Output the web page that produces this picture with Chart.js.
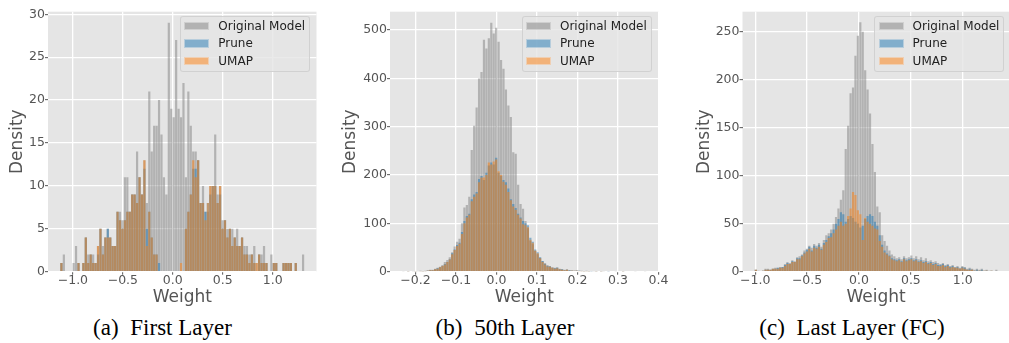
<!DOCTYPE html>
<html><head><meta charset="utf-8">
<script src="https://cdn.jsdelivr.net/npm/chart.js@4.4.0/dist/chart.umd.min.js"></script>
<style>
html,body{margin:0;padding:0;background:#fff;width:1009px;height:343px;overflow:hidden;position:relative;}
canvas{position:absolute;top:0;}
.legend{position:absolute;width:130px;height:56px;box-sizing:border-box;background:rgba(229,229,229,0.8);border:1px solid rgba(204,204,204,0.8);border-radius:3px;font-family:'DejaVu Sans',sans-serif;font-size:12px;color:#222;}
.row{position:absolute;left:0;height:14px;line-height:14px;width:128px;}
.sw{position:absolute;left:3.3px;top:2.6px;width:25px;height:8.75px;box-sizing:border-box;border:0.5px solid rgba(238,238,238,0.5);}
.lt{position:absolute;left:37.3px;top:0;white-space:nowrap;}
.cap{position:absolute;top:315.7px;height:23px;line-height:23px;font-family:'Liberation Serif','Times New Roman',serif;font-size:23px;color:#000;white-space:nowrap;transform:translateX(-50%);}
.gap{display:inline-block;width:11.7px;}
</style></head><body>
<canvas id="c1" width="330" height="312" style="left:0px;width:330px;height:312px"></canvas>
<canvas id="c2" width="332" height="312" style="left:340px;width:332px;height:312px"></canvas>
<canvas id="c3" width="330" height="312" style="left:690px;width:330px;height:312px"></canvas>
<div id="legends"></div>
<div class="cap" style="left:162.5px">(a)<span class="gap"></span>First Layer</div>
<div class="cap" style="left:505px">(b)<span class="gap"></span>50th Layer</div>
<div class="cap" style="left:852px">(c)<span class="gap"></span>Last Layer (FC)</div>
<script>
// ---------- data ----------
const seriesNames = ['Original Model', 'Prune', 'UMAP'];

// Panel (a) First Layer: 100 bins
const firstBinStart = -1.127, firstBinWidth = 0.02443;
const firstOriginal = [1,2,0,0,0,1,3,1,0,1, 4,2,2,2,1,3,5,3,4,5, 4,3,3,7,7,6,11,11,7,9, 9,14,11,9,13,8,21,14,17,17,
  20,16,11,9,29,19,18,27,19,18, 22,11,21,17,14,14,13,8,10,7, 7,10,10,16,9,10,6,6,5,5, 5,4,5,3,4,3,3,2,2,3,
  1,2,2,3,1,0,2,1,1,0, 0,1,1,1,1,0,1,0,0,2];
const firstPrune = [1,0,0,0,0,0,0,1,0,1, 4,1,2,1,1,2,5,2,4,5, 4,3,3,7,6,5,6,7,7,9, 9,8,11,9,12,5,7,4,2,2,
  1,0,0,0,0,0,0,0,0,0, 0,5,7,9,12,12,13,8,8,7, 8,9,10,10,8,9,5,6,4,5, 3,4,3,3,4,2,2,1,2,1,
  0,2,1,1,1,0,0,1,1,0, 0,1,1,1,1,0,1,0,0,0];
const firstUmap = [1,0,0,0,0,0,0,1,0,1, 4,1,2,1,1,3,5,2,4,4, 4,3,3,7,6,5,6,7,7,9, 9,8,11,9,13,3,7,4,2,2,
  0,0,0,0,0,0,0,0,0,1, 0,5,7,9,13,11,13,8,8,6, 8,10,10,10,8,10,5,6,4,5, 3,4,3,3,4,2,2,1,2,1,
  1,2,1,1,1,0,0,1,1,0, 0,1,1,1,1,0,1,0,0,0];

// Panel (b) 50th Layer
const midBinStart = -0.233, midBinWidth = 0.00603;
const midOriginal = [1,0,1,0,1,1,1,2,1,2, 3,4,4,6,8,10,14,20,24,30, 40,52,62,68,100,133,138,155,252,302,
  340,400,413,480,462,483,515,493,505,476, 438,420,377,344,320,247,244,180,140,130, 105,90,64,57,43,36,29,22,18,14,
  12,9,8,9,6,5,4,5,3,3, 2,3,2,2,1,2,1,1,1,1, 0,1,1,0,1,0,0,1,0,0, 1,0,0,0,0,1,0,0,0,1];
const midPrune = [0,0,1,0,0,1,0,1,1,1, 2,3,3,5,7,9,12,16,20,26, 38,46,55,60,82,105,115,120,150,160,
  165,192,198,190,205,220,226,222,236,205, 198,190,185,172,150,140,132,120,112,105, 100,96,70,62,46,40,30,22,16,12,
  11,8,7,8,5,5,3,4,3,2, 2,2,2,1,1,1,1,1,0,1, 0,1,0,0,1,0,0,0,0,0, 1,0,0,0,0,0,0,0,0,0];
const midUmap = [0,0,1,0,0,1,0,1,1,1, 2,3,3,5,6,9,12,15,20,25, 36,45,53,58,78,100,112,118,146,155,
  162,185,195,195,200,226,222,228,232,208, 200,186,180,165,148,135,128,118,110,98, 96,92,66,60,44,38,28,20,15,11,
  10,8,6,7,5,4,3,4,2,2, 2,2,1,1,1,1,1,0,0,1, 0,1,0,0,0,0,0,0,0,0, 1,0,0,0,0,0,0,0,0,0];

// Panel (c) Last Layer (FC)
const lastBinStart = -1.005, lastBinWidth = 0.0234;
const lastOriginal = [2,1,0,1,3,3,2,3,4,4, 5,5,8,10,9,12,11,15,16,18, 22,24,27,25,29,27,30,26,33,38,
  40,44,50,57,66,75,85,128,152,186, 192,225,246,260,250,210,190,165,133,104, 68,62,38,32,27,22,18,16,14,15,
  13,16,14,15,17,14,16,13,15,12, 14,11,12,10,11,9,8,9,7,8, 6,7,5,6,4,6,5,3,4,3, 2,3,2,3,1,2,1,1,0,2];
const lastPrune = [2,0,0,1,2,2,2,3,3,4, 4,5,7,9,8,11,10,14,14,17, 20,23,26,22,27,25,28,24,30,33,
  37,40,44,50,55,62,60,52,55,58, 56,52,50,46,48,55,58,60,58,52, 48,38,28,22,19,17,14,13,12,13,
  11,14,12,13,14,12,13,11,12,10, 11,9,10,8,9,7,7,8,6,7, 5,6,4,5,3,5,4,2,3,2, 1,2,1,2,1,1,0,1,0,0];
const lastUmap = [2,0,0,1,2,2,2,3,3,3, 4,4,6,8,8,10,10,13,13,16, 19,21,24,21,25,24,26,23,28,31,
  35,36,40,44,48,52,48,50,58,66, 83,80,64,60,33,56,52,50,48,45, 44,32,26,20,18,16,13,12,11,12,
  10,13,11,12,13,11,12,10,11,9, 10,8,9,7,8,6,6,7,5,6, 4,5,4,4,3,4,3,2,2,2, 1,1,1,1,1,1,0,1,0,0];

// tick labels
const firstXTicks = [-1.0, -0.5, 0.0, 0.5, 1.0];
const firstYTicks = [0, 5, 10, 15, 20, 25, 30];
const midXTicks = [-0.2, -0.1, 0.0, 0.1, 0.2, 0.3, 0.4];
const midYTicks = [0, 100, 200, 300, 400, 500];
const lastXTicks = [-1.0, -0.5, 0.0, 0.5, 1.0];
const lastYTicks = [0, 50, 100, 150, 200, 250];

// ---------- rendering ----------
const FONT = "'DejaVu Sans', 'Liberation Sans', sans-serif";
Chart.defaults.font.family = FONT;
Chart.defaults.color = '#555555';

const COLORS = ['rgba(128,128,128,0.5)', 'rgba(31,119,180,0.5)', 'rgba(255,127,14,0.5)'];

const axesBg = {
  id: 'axesBg',
  beforeDraw(chart) {
    const {ctx, chartArea: a} = chart;
    ctx.save();
    ctx.fillStyle = '#E5E5E5';
    ctx.fillRect(a.left, a.top, a.right - a.left, a.bottom - a.top);
    ctx.restore();
  }
};

function fmt(v, dec) {
  const s = Math.abs(v).toFixed(dec);
  return (v < -1e-9 ? '\u2212' : '') + s;
}

function build(id, p) {
  const centers = p.series[0].map((_, i) => p.binStart + p.binWidth * (i + 0.5));
  const datasets = p.series.map((vals, si) => ({
    label: seriesNames[si],
    order: 3 - si,
    data: vals.map((v, i) => ({x: centers[i], y: v === 0 ? null : v})),
    backgroundColor: COLORS[si],
    borderWidth: 0,
    barPercentage: 0.9,
    categoryPercentage: 1,
    grouped: false
  }));
  new Chart(document.getElementById(id), {
    type: 'bar',
    data: {datasets},
    plugins: [axesBg],
    options: {
      responsive: false,
      animation: false,
      events: [],
      layout: {padding: {left: 0, right: p.padR, top: 11.7, bottom: 0}},
      plugins: {legend: {display: false}, tooltip: {enabled: false}},
      scales: {
        x: {
          type: 'linear', min: p.xMin, max: p.xMax, offset: false,
          afterBuildTicks: s => { s.ticks = p.xTicks.map(v => ({value: v})); },
          afterFit: s => { s.height = 312 - 271.7; s.paddingLeft = 0; s.paddingRight = 0; },
          grid: {color: '#FFFFFF', lineWidth: 1.3, offset: false, drawTicks: true, tickLength: 3, tickColor: '#555555', tickWidth: 1},
          border: {display: false},
          ticks: {autoSkip: false, maxRotation: 0, padding: -1, color: '#555555', font: {size: 12.5}, callback: v => fmt(v, 1)},
          title: {display: true, text: 'Weight', color: '#555555', font: {size: 17}, padding: {top: 0, bottom: 4.3}}
        },
        y: {
          type: 'linear', min: 0, max: p.yMax,
          afterBuildTicks: s => { s.ticks = p.yTicks.map(v => ({value: v})); },
          afterFit: s => { s.width = p.yAxisW; s.paddingTop = 0; s.paddingBottom = 0; },
          grid: {color: '#FFFFFF', lineWidth: 1.3, drawTicks: true, tickLength: 3, tickColor: '#555555', tickWidth: 1},
          border: {display: false},
          ticks: {autoSkip: false, padding: 0, color: '#555555', font: {size: 12.5}, callback: v => String(v)},
          title: {display: true, text: 'Density', color: '#555555', font: {size: 17}, padding: {top: p.yTitlePad, bottom: 0}}
        }
      }
    }
  });
}

build('c1', {series: [firstOriginal, firstPrune, firstUmap], binStart: firstBinStart, binWidth: firstBinWidth,
  xMin: -1.249, xMax: 1.438, yMax: 30.3, xTicks: firstXTicks, yTicks: firstYTicks, yAxisW: 48, padR: 330 - 316.5, yTitlePad: 7.3});
build('c2', {series: [midOriginal, midPrune, midUmap], binStart: midBinStart, binWidth: midBinWidth,
  xMin: -0.263, xMax: 0.40, yMax: 538, xTicks: midXTicks, yTicks: midYTicks, yAxisW: 50, padR: 332 - 318.5, yTitlePad: 0});
build('c3', {series: [lastOriginal, lastPrune, lastUmap], binStart: lastBinStart, binWidth: lastBinWidth,
  xMin: -1.122, xMax: 1.452, yMax: 271, xTicks: lastXTicks, yTicks: lastYTicks, yAxisW: 52.5, padR: 330 - 319.7, yTitlePad: 4.8});

// legends (HTML overlay)
const legendLefts = [180, 521.7, 874.3];
const rowCenters = [10, 27.3, 45];
const lg = document.getElementById('legends');
legendLefts.forEach(left => {
  const box = document.createElement('div');
  box.className = 'legend';
  box.style.left = left + 'px';
  box.style.top = '16px';
  seriesNames.forEach((name, i) => {
    const row = document.createElement('div');
    row.className = 'row';
    row.style.top = (rowCenters[i] - 1 - 7) + 'px';
    const sw = document.createElement('span');
    sw.className = 'sw';
    sw.style.background = COLORS[i];
    const t = document.createElement('span');
    t.className = 'lt';
    t.textContent = name;
    row.appendChild(sw); row.appendChild(t);
    box.appendChild(row);
  });
  lg.appendChild(box);
});
</script>
</body></html>
